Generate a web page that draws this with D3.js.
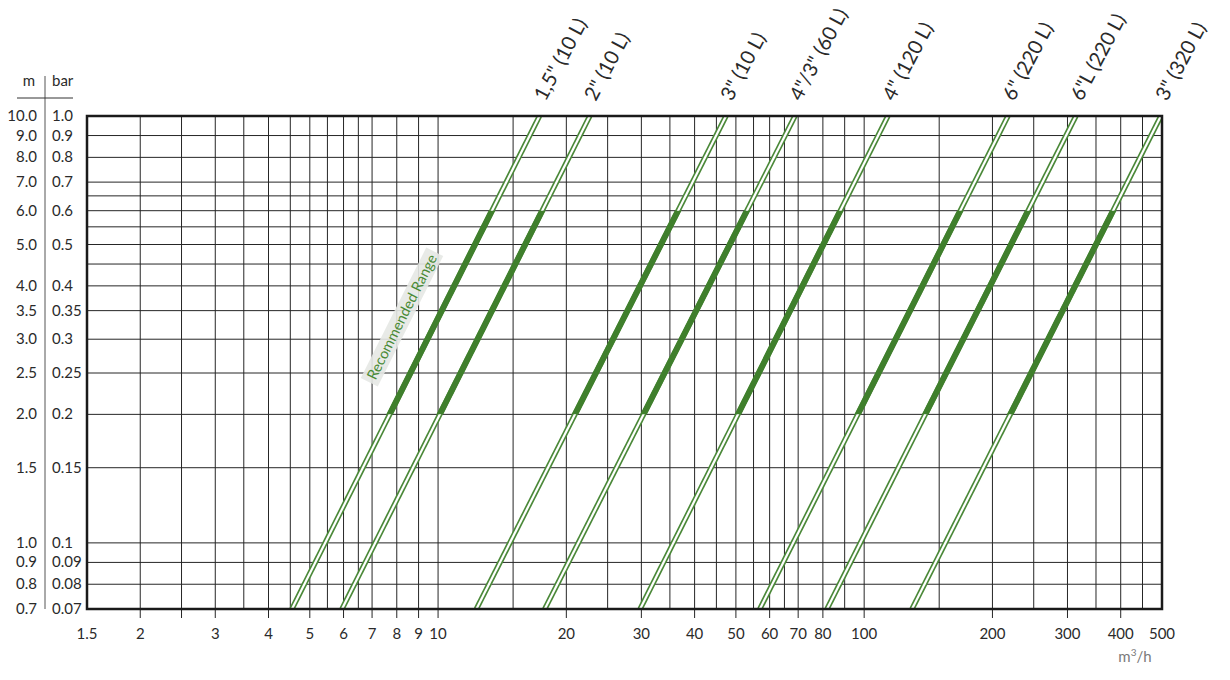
<!DOCTYPE html>
<html>
<head>
<meta charset="utf-8">
<script src="https://cdn.jsdelivr.net/npm/d3@7"></script>
<style>
html,body{margin:0;padding:0;background:#fff;}
svg{display:block;font-family:Lato,"Open Sans",sans-serif;}
</style>
</head>
<body>
<svg id="chart" width="1230" height="680"></svg>
<script>
// ---- data ----
const seriesLabels = ['1,5" (10 L)', '2" (10 L)', '3" (10 L)', '4"/3" (60 L)', '4" (120 L)', '6" (220 L)', '6"L (220 L)', '3" (320 L)'];
const flowAtMinHead = [4.54, 5.95, 12.3, 17.8, 29.8, 56.9, 81.8, 129.5];   // m3/h at 0.7 m
const flowAtMaxHead = [17.3, 22.7, 47.4, 68.8, 113.7, 217.5, 314, 497];     // m3/h at 10 m
const headRange = [0.7, 10];
const recommendedRange = [2.0, 6.0];
const xTickLabels = [1.5, 2, 3, 4, 5, 6, 7, 8, 9, 10, 20, 30, 40, 50, 60, 70, 80, 100, 200, 300, 400, 500];
const xMinorTicks = [2.5, 3.5, 4.5, 5.5, 6.5, 15, 25, 35, 45, 55, 65, 90, 150, 250, 350, 450];
const xTickMarks = [2, 2.5, 3, 4, 5, 6, 7, 8, 9, 10, 20, 30, 40, 50, 60, 70, 80, 100, 200, 300, 400];
const yGrid = [9, 8, 7, 6.5, 6, 5.5, 5, 4.5, 4, 3.5, 3, 2.5, 2, 1.5, 1, 0.9, 0.8];
const yLabelsM = ['10.0', '9.0', '8.0', '7.0', '6.0', '5.0', '4.0', '3.5', '3.0', '2.5', '2.0', '1.5', '1.0', '0.9', '0.8', '0.7'];
const yLabelsBar = ['1.0', '0.9', '0.8', '0.7', '0.6', '0.5', '0.4', '0.35', '0.3', '0.25', '0.2', '0.15', '0.1', '0.09', '0.08', '0.07'];

// ---- layout ----
const svg = d3.select('#chart');
const L = 87, R = 1162, T = 116, B = 609;
const x = d3.scaleLog().domain([1.5, 500]).range([L, R]);
const y = d3.scaleLog().domain([0.7, 10]).range([B, T]);
const green = '#3f7f2c';
const textCol = '#2a2a2a';

// grid
const grid = svg.append('g');
grid.selectAll('line.v').data(xTickLabels.concat(xMinorTicks).filter(v => v > 1.5 && v < 500))
  .join('line').attr('x1', d => x(d)).attr('x2', d => x(d)).attr('y1', T).attr('y2', B)
  .attr('stroke', '#262626').attr('stroke-width', 1);
grid.selectAll('line.h').data(yGrid)
  .join('line').attr('x1', L).attr('x2', R).attr('y1', d => y(d)).attr('y2', d => y(d))
  .attr('stroke', '#262626').attr('stroke-width', 1);

// tick marks below axis
svg.append('g').selectAll('line').data(xTickMarks).join('line')
  .attr('x1', d => x(d)).attr('x2', d => x(d)).attr('y1', B).attr('y2', B + 9)
  .attr('stroke', '#262626').attr('stroke-width', 1);

// x tick labels
svg.append('g').selectAll('text').data(xTickLabels).join('text')
  .attr('x', d => x(d)).attr('y', 639).attr('text-anchor', 'middle')
  .attr('font-size', 15).attr('fill', textCol).text(d => d);
svg.append('text').attr('x', 1135).attr('y', 662).attr('text-anchor', 'middle')
  .attr('font-size', 15).attr('fill', '#7a7a7a')
  .html('m<tspan dy="-6" font-size="10">3</tspan><tspan dy="6">/h</tspan>');

// y labels
const yVals = [10, 9, 8, 7, 6, 5, 4, 3.5, 3, 2.5, 2, 1.5, 1, 0.9, 0.8, 0.7];
svg.append('g').selectAll('text').data(yLabelsM).join('text')
  .attr('x', 37).attr('y', (d, i) => y(yVals[i]) + 5).attr('text-anchor', 'end')
  .attr('font-size', 15).attr('fill', textCol).text(d => d);
svg.append('g').selectAll('text').data(yLabelsBar).join('text')
  .attr('x', 52).attr('y', (d, i) => y(yVals[i]) + 5).attr('text-anchor', 'start')
  .attr('font-size', 15).attr('fill', textCol).text(d => d);
svg.append('text').attr('x', 29).attr('y', 86).attr('text-anchor', 'middle')
  .attr('font-size', 15).attr('fill', textCol).text('m');
svg.append('text').attr('x', 52).attr('y', 86).attr('text-anchor', 'start')
  .attr('font-size', 15).attr('fill', textCol).text('bar');
svg.append('line').attr('x1', 45).attr('x2', 45).attr('y1', 76).attr('y2', 609)
  .attr('stroke', '#555').attr('stroke-width', 1);
svg.append('line').attr('x1', 17).attr('x2', 73).attr('y1', 98).attr('y2', 98)
  .attr('stroke', '#333').attr('stroke-width', 1);

// clip paths
const defs = svg.append('defs');
defs.append('clipPath').attr('id', 'plotClip').append('rect')
  .attr('x', L).attr('y', T).attr('width', R - L).attr('height', B - T);
defs.append('clipPath').attr('id', 'recClip').append('rect')
  .attr('x', L).attr('y', y(recommendedRange[1])).attr('width', R - L)
  .attr('height', y(recommendedRange[0]) - y(recommendedRange[1]));

const series = seriesLabels.map((lab, i) => ({
  label: lab,
  pts: [[flowAtMinHead[i], headRange[0]], [flowAtMaxHead[i], headRange[1]]]
}));
const lineGen = d3.line().x(d => x(d[0])).y(d => y(d[1]));

const lines = svg.append('g').attr('clip-path', 'url(#plotClip)');
lines.selectAll('path.outer').data(series).join('path')
  .attr('d', d => lineGen(d.pts)).attr('stroke', '#4a8838').attr('stroke-width', 5.5).attr('fill', 'none');
lines.selectAll('path.inner').data(series).join('path')
  .attr('d', d => lineGen(d.pts)).attr('stroke', '#fff').attr('stroke-width', 2.2).attr('fill', 'none');
const rec = svg.append('g').attr('clip-path', 'url(#recClip)');
rec.selectAll('path').data(series).join('path')
  .attr('d', d => lineGen(d.pts)).attr('stroke', green).attr('stroke-width', 6).attr('fill', 'none');

// frame
svg.append('rect').attr('x', L).attr('y', T).attr('width', R - L).attr('height', B - T)
  .attr('fill', 'none').attr('stroke', '#1a1a1a').attr('stroke-width', 2.5);

// series labels
const ang = Math.atan2(y(headRange[1]) - y(headRange[0]), x(flowAtMaxHead[0]) - x(flowAtMinHead[0])) * 180 / Math.PI;
svg.append('g').selectAll('text').data(series).join('text')
  .attr('transform', d => `translate(${x(d.pts[1][0]) + 6},${102}) rotate(-62)`)
  .attr('font-size', 20).attr('fill', textCol).text(d => d.label);

// recommended range label
const rg = svg.append('g').attr('transform', `translate(402,317) rotate(${ang})`);
const rt = rg.append('text').attr('text-anchor', 'middle').attr('y', 5)
  .attr('font-size', 14.5).attr('fill', '#4a8a36').text('Recommended Range');
const tw = rt.node().getComputedTextLength();
rg.insert('rect', 'text').attr('x', -tw / 2 - 4).attr('y', -9.5).attr('width', tw + 8).attr('height', 19)
  .attr('fill', '#e6e8e4').attr('opacity', 0.9);
</script>
</body>
</html>
